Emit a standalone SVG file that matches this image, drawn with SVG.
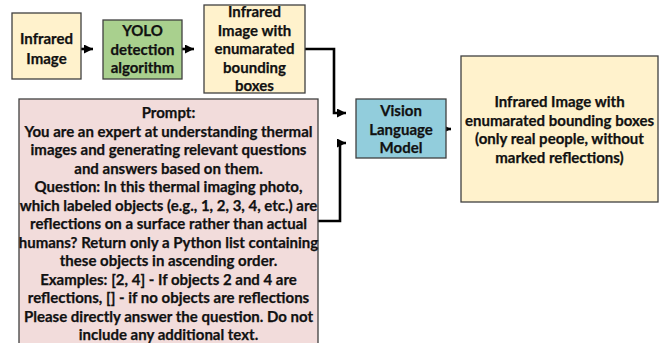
<svg xmlns="http://www.w3.org/2000/svg" width="662" height="343" viewBox="0 0 662 343">
<defs>
<style>
.box{stroke:#404040;stroke-width:1.3}
.cream{fill:#FFF2CC}
.green{fill:#A9D08E}
.blue{fill:#92CDDC}
.pink{fill:#F2DCDB}
text{font-family:"Lato","Liberation Sans",sans-serif;font-weight:bold;font-size:15px;fill:#111;text-anchor:middle;stroke:#111;stroke-width:0.25}
.conn{fill:none;stroke:#000;stroke-width:2.6}
</style>
<marker id="ah" viewBox="0 0 10 10" refX="10" refY="5" markerWidth="10" markerHeight="9" markerUnits="userSpaceOnUse" orient="auto">
<path d="M0,0 L10,5 L0,10 Z" fill="#000"/>
</marker>
</defs>
<rect width="662" height="343" fill="#fff"/>
<g id="connectors">
<path class="conn" d="M81,49 H93" marker-end="url(#ah)"/>
<path class="conn" d="M182,49 H194" marker-end="url(#ah)"/>
<path class="conn" d="M305,49 H334 V113 H346" marker-end="url(#ah)"/>
<path class="conn" d="M318,221 H340 V143 H346" marker-end="url(#ah)"/>
<path class="conn" d="M446,129 H451" marker-end="url(#ah)"/>
</g>
<g id="infrared-image">
<rect class="box cream" x="12" y="13" width="69" height="66"/>
<text x="46.5" y="44">Infrared</text>
<text x="46.5" y="64">Image</text>
</g>
<g id="yolo">
<rect class="box green" x="103" y="20" width="79" height="59"/>
<text x="142.5" y="36">YOLO</text>
<text x="142.5" y="54.5">detection</text>
<text x="142.5" y="73">algorithm</text>
</g>
<g id="enumerated">
<rect class="box cream" x="204" y="5" width="101" height="88"/>
<text x="254.5" y="17">Infrared</text>
<text x="254.5" y="35.5">Image with</text>
<text x="254.5" y="54">enumarated</text>
<text x="254.5" y="72.5">bounding</text>
<text x="254.5" y="91">boxes</text>
</g>
<g id="prompt">
<rect class="box pink" x="19" y="99" width="299" height="250"/>
<text x="168.5" y="118">Prompt:</text>
<text x="168.5" y="136.5">You are an expert at understanding thermal</text>
<text x="168.5" y="155">images and generating relevant questions</text>
<text x="168.5" y="173.5">and answers based on them.</text>
<text x="168.5" y="192">Question: In this thermal imaging photo,</text>
<text x="168.5" y="210.5">which labeled objects (e.g., 1, 2, 3, 4, etc.) are</text>
<text x="168.5" y="229">reflections on a surface rather than actual</text>
<text x="168.5" y="247.5">humans? Return only a Python list containing</text>
<text x="168.5" y="266">these objects in ascending order.</text>
<text x="168.5" y="284.5">Examples: [2, 4] - If objects 2 and 4 are</text>
<text x="168.5" y="303">reflections, [] - if no objects are reflections</text>
<text x="168.5" y="321.5">Please directly answer the question. Do not</text>
<text x="168.5" y="340">include any additional text.</text>
</g>
<g id="vlm">
<rect class="box blue" x="356" y="99" width="90" height="59"/>
<text x="401" y="116">Vision</text>
<text x="401" y="134.5">Language</text>
<text x="401" y="153">Model</text>
</g>
<g id="output">
<rect class="box cream" x="461" y="56" width="197" height="146"/>
<text x="559.5" y="107">Infrared Image with</text>
<text x="559.5" y="125.5">enumarated bounding boxes</text>
<text x="559.5" y="144">(only real people, without</text>
<text x="559.5" y="162.5">marked reflections)</text>
</g>
</svg>
